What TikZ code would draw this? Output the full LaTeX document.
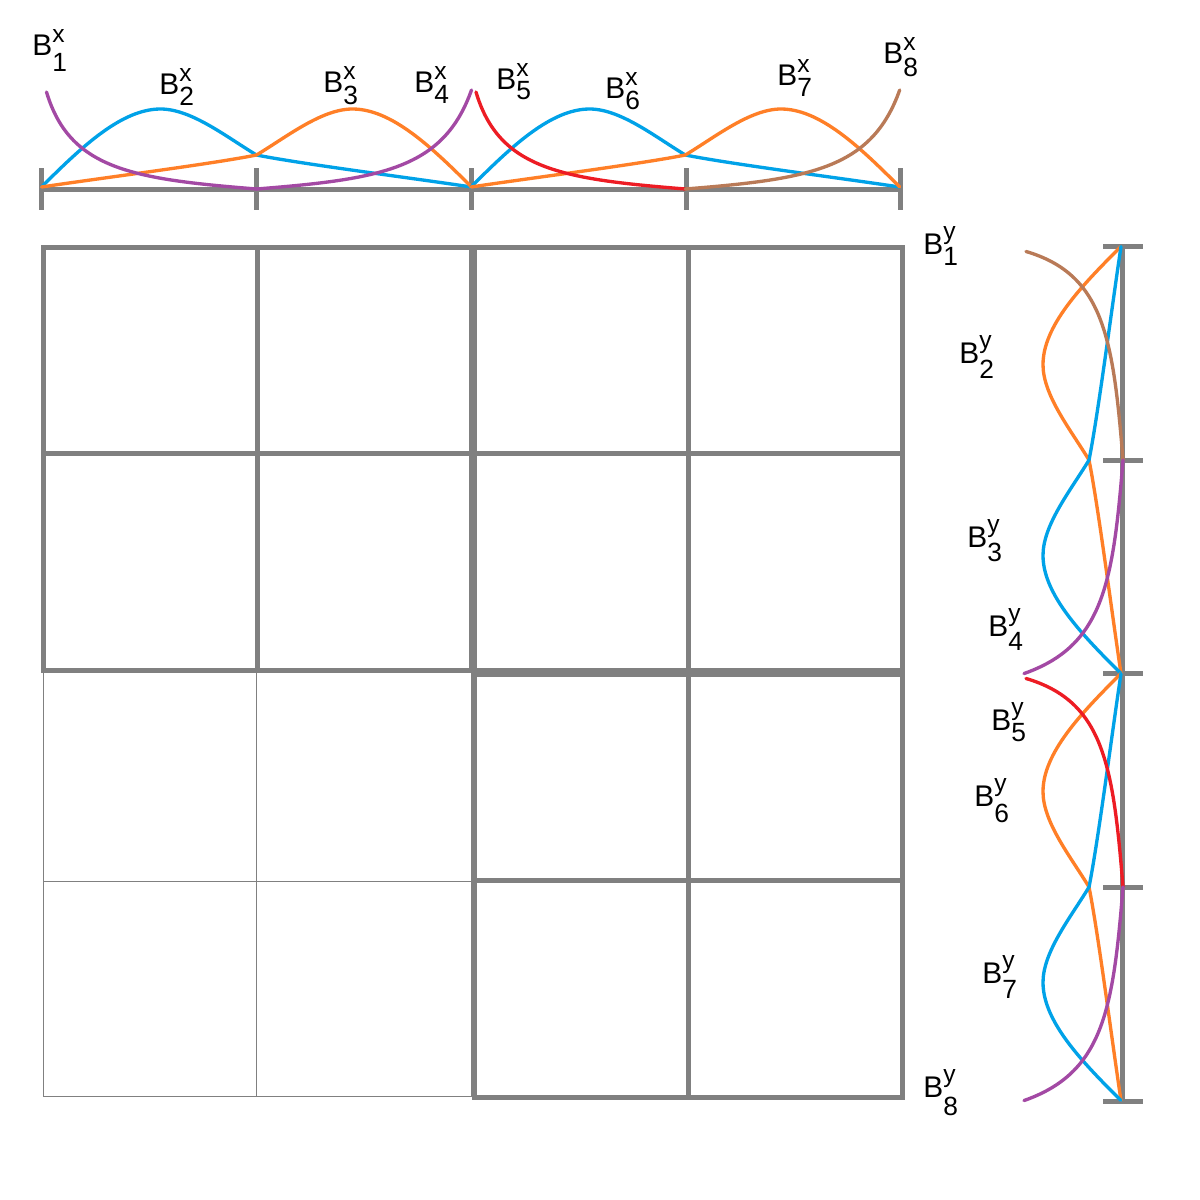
\documentclass[tikz,border=0pt]{standalone}
\usepackage{fontspec}
\setmainfont{Liberation Sans}
\definecolor{cblue}{RGB}{0,162,232}
\definecolor{corange}{RGB}{255,127,39}
\definecolor{cpurple}{RGB}{163,73,164}
\definecolor{cred}{RGB}{237,28,36}
\definecolor{cbrown}{RGB}{185,122,87}
\definecolor{cgray}{RGB}{128,128,128}
\newcommand\supfnt{\fontsize{14}{14}\selectfont}
\newcommand\subfnt{\fontsize{15}{15}\selectfont}
\newlength\suprise
\setlength\suprise{7pt}
\newlength\subdrop
\newcommand\blab[6]{\setlength\subdrop{#6\dimexpr 0.569pt\relax}\node[lbl] (#1) at (#2,#3) {B\rlap{\raisebox{\suprise}{\supfnt #4}}\raisebox{-\subdrop}{\subfnt #5}};}
\newcommand\segcurves[4]{%
 \draw[curve,#3] (0,0) .. controls (40,40) and (80,78) .. (119,78) .. controls (150,78) and (185,50) .. (215,32);
 \draw[curve,#3] (215,32) .. controls (260,23) and (370,9) .. (430,0);
 \draw[curve,#4] (0,0) .. controls (60,9) and (170,23) .. (215,32);
 \draw[curve,#4] (215,32) .. controls (245,50) and (280,78) .. (311,78) .. controls (350,78) and (390,40) .. (430,0);
 \draw[curve,#1] (5,95) .. controls (28,18) and (90,8) .. (215,-2);
 \draw[curve,#2] (215,-2) .. controls (340,8) and (402,18) .. (430,97);
}
\tikzset{
 curve/.style={line width=1.9pt,line cap=round,line join=round},
 thickgray/.style={draw=cgray,line width=0.1cm},
 thingray/.style={draw=cgray,line width=0.02cm},
 lbl/.style={anchor=base west,inner sep=0pt,font=\fontsize{17}{17}\selectfont}
}
\begin{document}
\begin{tikzpicture}[x=0.02cm,y=-0.02cm]
\useasboundingbox[fill=white] (0,0) rectangle (1200,1200);
% bottom-left thin block
\draw[thingray] (43,669) rectangle (471,1096);
\draw[thingray] (256,669) -- (256,1096);
\draw[thingray] (43,881) -- (471,881);
% top-left thick block
\draw[thickgray] (43,247.5) rectangle (471.5,670);
\draw[thickgray] (257.5,247.5) -- (257.5,670);
\draw[thickgray] (43,453) -- (471.5,453);
% top-right thick block
\draw[thickgray] (474.5,247.5) rectangle (902.5,670);
\draw[thickgray] (688,247.5) -- (688,670);
\draw[thickgray] (474.5,453) -- (902.5,453);
% bottom-right thick block
\draw[thickgray] (474,674.5) rectangle (902.5,1097.5);
\draw[thickgray] (688,674.5) -- (688,1097.5);
\draw[thickgray] (474,880) -- (902.5,880);
% top axis
\coordinate (ta) at (41.5,189);
\coordinate (tb) at (900,189);
\draw[thickgray] (ta) -- (tb);
\foreach \x in {41.5,256,471,686,900} \draw[thickgray] (\x,168) -- (\x,210);
% right axis
\coordinate (ra) at (1122.5,246.5);
\coordinate (rb) at (1122.5,1101);
\draw[thickgray] (ra) -- (rb);
\foreach \y in {246.5,460,673.5,887.5,1101} \draw[thickgray] (1103,\y) -- (1143,\y);
% top curves
\begin{scope}[shift={(41.5,187)}]
\begin{scope}[x={(0.02cm,0cm)},y={(0cm,0.02cm)}]
\segcurves{cpurple}{cpurple}{cblue}{corange}
\end{scope}
\end{scope}
\begin{scope}[shift={(471,187)}]
\begin{scope}[x={(0.01995cm,0cm)},y={(0cm,0.02cm)}]
\segcurves{cred}{cbrown}{cblue}{corange}
\end{scope}
\end{scope}
% right curves
\begin{scope}[shift={(1121,246.5)}]
\begin{scope}[x={(0cm,-0.01986cm)},y={(-0.02cm,0cm)}]
\segcurves{cbrown}{cpurple}{corange}{cblue}
\end{scope}
\end{scope}
\begin{scope}[shift={(1121,673.5)}]
\begin{scope}[x={(0cm,-0.01986cm)},y={(-0.02cm,0cm)}]
\segcurves{cred}{cpurple}{corange}{cblue}
\end{scope}
\end{scope}
% labels (top)
\blab{bx1}{32}{55}{x}{1}{17}
\blab{bx2}{159}{94}{x}{2}{12}
\blab{bx3}{323}{92}{x}{3}{13}
\blab{bx4}{414}{92}{x}{4}{12}
\blab{bx5}{496}{89}{x}{5}{11}
\blab{bx6}{605}{98}{x}{6}{12}
\blab{bx7}{777}{85}{x}{7}{12}
\blab{bx8}{883}{63}{x}{8}{14}
% labels (right)
\setlength\suprise{8pt}
\blab{by1}{923}{254}{y}{1}{12}
\blab{by2}{959}{363}{y}{2}{15}
\blab{by3}{967}{547}{y}{3}{14}
\blab{by4}{988}{636}{y}{4}{14}
\blab{by5}{991}{730}{y}{5}{11}
\blab{by6}{974}{806}{y}{6}{16}
\blab{by7}{982}{983}{y}{7}{15}
\blab{by8}{923}{1097}{y}{8}{18}
\end{tikzpicture}
\end{document}
